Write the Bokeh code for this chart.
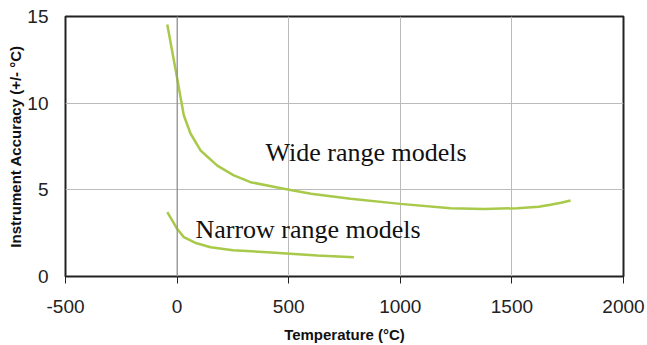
from bokeh.plotting import figure
from bokeh.models import Range1d, Span, FixedTicker, Label
from bokeh.embed import file_html
from bokeh.resources import INLINE

# Data
wide_x = [-44, -20, 5, 18, 30, 60, 105, 180, 254, 329, 478, 600, 777, 1000, 1225, 1374, 1524, 1620, 1673, 1720, 1763]
wide_y = [14.54, 12.85, 11.1, 10.15, 9.3, 8.25, 7.27, 6.4, 5.83, 5.44, 5.06, 4.78, 4.48, 4.19, 3.94, 3.9, 3.94, 4.02, 4.14, 4.25, 4.38]

narrow_x = [-44, -20, 0, 30, 80, 150, 250, 404, 628, 792]
narrow_y = [3.71, 3.2, 2.75, 2.27, 1.95, 1.69, 1.52, 1.40, 1.21, 1.11]

x_ticks = [-500, 0, 500, 1000, 1500, 2000]
x_tick_labels = ["-500", "0", "500", "1000", "1500", "2000"]
y_ticks = [0, 5, 10, 15]
y_tick_labels = ["0", "5", "10", "15"]

label_wide = "Wide range models"
label_narrow = "Narrow range models"
x_title = "Temperature (°C)"
y_title = "Instrument Accuracy (+/- °C)"

p = figure(width=647, height=345, output_backend="svg", toolbar_location=None,
           x_range=Range1d(-500, 2000), y_range=Range1d(0, 15),
           min_border_left=65, min_border_right=24, min_border_top=16, min_border_bottom=69)

p.background_fill_color = "white"
p.border_fill_color = "white"
p.outline_line_color = "#222222"
p.outline_line_width = 2

p.xaxis.ticker = FixedTicker(ticks=x_ticks)
p.yaxis.ticker = FixedTicker(ticks=y_ticks)
p.xaxis.major_label_overrides = dict(zip(x_ticks, x_tick_labels))
p.yaxis.major_label_overrides = dict(zip(y_ticks, y_tick_labels))
p.xgrid.ticker = FixedTicker(ticks=x_ticks)
p.ygrid.ticker = FixedTicker(ticks=y_ticks)
p.grid.grid_line_color = "#bbbbbb"
p.grid.grid_line_width = 1

for ax in (p.xaxis, p.yaxis):
    ax.axis_line_color = None
    ax.minor_tick_line_color = None
    ax.major_label_text_font = "Liberation Sans"
    ax.major_label_text_font_size = "19px"
    ax.major_label_text_color = "#222222"
    ax.axis_label_text_font = "Liberation Sans"
    ax.axis_label_text_font_size = "15px"
    ax.axis_label_text_font_style = "bold"
    ax.axis_label_text_color = "#111111"

p.xaxis.major_tick_out = 7
p.xaxis.major_tick_in = 0
p.xaxis.major_tick_line_color = "#222222"
p.xaxis.major_label_standoff = 16
p.xaxis.axis_label = x_title
p.xaxis.axis_label_standoff = 10

p.yaxis.major_tick_out = 0
p.yaxis.major_tick_in = 0
p.yaxis.major_label_standoff = 17
p.yaxis.axis_label = y_title
p.yaxis.axis_label_standoff = 0

p.add_layout(Span(location=0, dimension="height", line_color="#888888", line_width=1))

p.line(wide_x, wide_y, line_color="#a8c94a", line_width=2.5)
p.line(narrow_x, narrow_y, line_color="#a8c94a", line_width=2.5)

p.add_layout(Label(x=396, y=7.15, text=label_wide, text_font="Liberation Serif",
                   text_font_size="26px", text_color="#111111", text_baseline="alphabetic"))
p.add_layout(Label(x=82, y=2.7, text=label_narrow, text_font="Liberation Serif",
                   text_font_size="26px", text_color="#111111", text_baseline="alphabetic"))

open("out.html", "w").write(file_html(p, INLINE))
